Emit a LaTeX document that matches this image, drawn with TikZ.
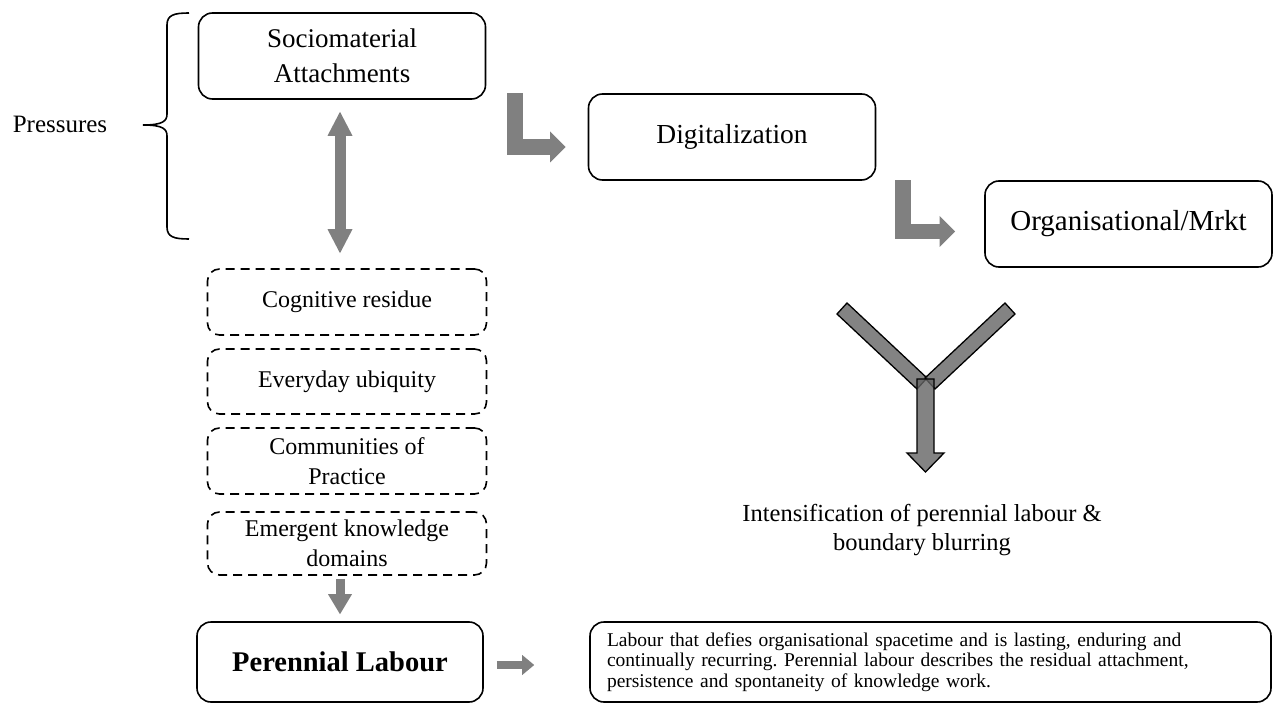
\documentclass[tikz,border=0pt]{standalone}
\usepackage{fontspec}
\setmainfont{Liberation Serif}
\usetikzlibrary{arrows.meta,calc}
\definecolor{arrowgray}{RGB}{128,128,128}
\definecolor{ygray}{RGB}{100,100,100}
\frenchspacing

\begin{document}
\begin{tikzpicture}[x=1pt,y=-1pt,
  box/.style={draw, line width=1.6pt, rounded corners=14pt, align=center,
    inner sep=0pt, minimum width=287pt, minimum height=86pt},
  dbox/.style={draw, line width=1.6pt, dash pattern=on 9pt off 6pt,
    rounded corners=12pt, align=center, inner sep=0pt, minimum width=279pt,
    font=\fontsize{24}{30}\selectfont},
  fatarrow/.style={arrowgray, line width=11pt,
    {Triangle[width=25pt,length=24pt,line width=0pt]}-{Triangle[width=25pt,length=24pt,line width=0pt]}},
  downarrow/.style={arrowgray, line width=9pt,
    -{Triangle[width=24pt,length=20pt,line width=0pt]}},
  smallarrow/.style={arrowgray, line width=8pt,
    -{Triangle[width=20pt,length=12pt,line width=0pt]}},
  bentarrow/.style={arrowgray, line width=15.5pt, line join=miter,
    -{Triangle[width=31pt,length=15.5pt,line width=0pt]}},
  yshape/.style={draw=black, line width=1.3pt, line join=miter, fill=ygray, fill opacity=0.8},
]
\useasboundingbox (0,0) rectangle (1277,703);

% main chain
\node[box, font=\fontsize{27}{35}\selectfont] (socio) at (342,56) {Sociomaterial\\Attachments};
\node[box, font=\fontsize{27.5}{33}\selectfont] (digit) at (732,137) {Digitalization};
\node[box, font=\fontsize{29}{33}\selectfont] (org) at (1128.5,224) {Organisational/Mrkt};

% pressures label and brace
\node[font=\fontsize{25}{30}\selectfont, anchor=base] (press) at (60,133) {Pressures};
\draw[line width=1.6pt] (189,13) .. controls (174,13) and (167,15) .. (167,25)
  -- (167,114) .. controls (167,121) and (163,125) .. (143,125);
\draw[line width=1.6pt] (143,125) .. controls (163,125) and (167,129) .. (167,136)
  -- (167,227) .. controls (167,237) and (174,239) .. (189,239);

% dashed stack
\node[dbox, minimum height=66pt] (cog) at (347,302) {Cognitive residue};
\node[dbox, minimum height=65pt] (every) at (347,381.5) {Everyday ubiquity};
\node[dbox, minimum height=66pt] (comm) at (347,461) {Communities of\\Practice};
\node[dbox, minimum height=63pt] (emerg) at (347,543.5) {Emergent knowledge\\domains};

% bottom row
\node[box, minimum width=286pt, minimum height=80pt,
  font=\fontsize{28.5}{33}\bfseries] (peren) at (340,662) {Perennial Labour};
\node[draw, line width=1.6pt, rounded corners=14pt, inner xsep=17pt, inner ysep=0pt,
  text width=647pt, align=left, minimum height=80pt,
  font=\fontsize{19.5}{20.5}\selectfont] (desc) at (930.5,662)
  {Labour that defies organisational spacetime and is lasting, enduring and\\
   continually recurring. Perennial labour describes the residual attachment,\\
   persistence and spontaneity of knowledge work.};

% outcome
\node[align=center, font=\fontsize{24.5}{29}\selectfont] (intens) at (922,530)
  {Intensification of perennial labour \&\\boundary blurring};

% connectors
\draw[fatarrow, shorten <=12pt, shorten >=15pt] (socio.south -| 340,0) -- (cog.north -| 340,0);
\draw[downarrow, shorten <=3pt, shorten >=7pt] (emerg.south -| 340,0) -- (peren.north -| 340,0);
\draw[smallarrow, shorten <=13pt, shorten >=55pt] ([yshift=-3pt]peren.east) -- ([yshift=-3pt]peren.east -| desc.west);

\draw[bentarrow] ([xshift=28.5pt]socio.east |- digit.north) |- ([xshift=-22pt,yshift=-10pt]digit.west);
\draw[bentarrow] ([xshift=26.5pt]digit.east |- org.north) |- ([xshift=-29pt,yshift=-7.5pt]org.west);

% merging arms and downward arrow
\fill[yshape] (837,314) -- (847,303) -- (927,378) -- (917,389) -- cycle;
\fill[yshape] (1015,314) -- (1005,303) -- (925,378) -- (935,389) -- cycle;
\fill[yshape] (917,379) -- (934,379) -- (934,453) -- (944,453) -- (925.5,472)
  -- (907,453) -- (917,453) -- cycle;
\end{tikzpicture}
\end{document}
